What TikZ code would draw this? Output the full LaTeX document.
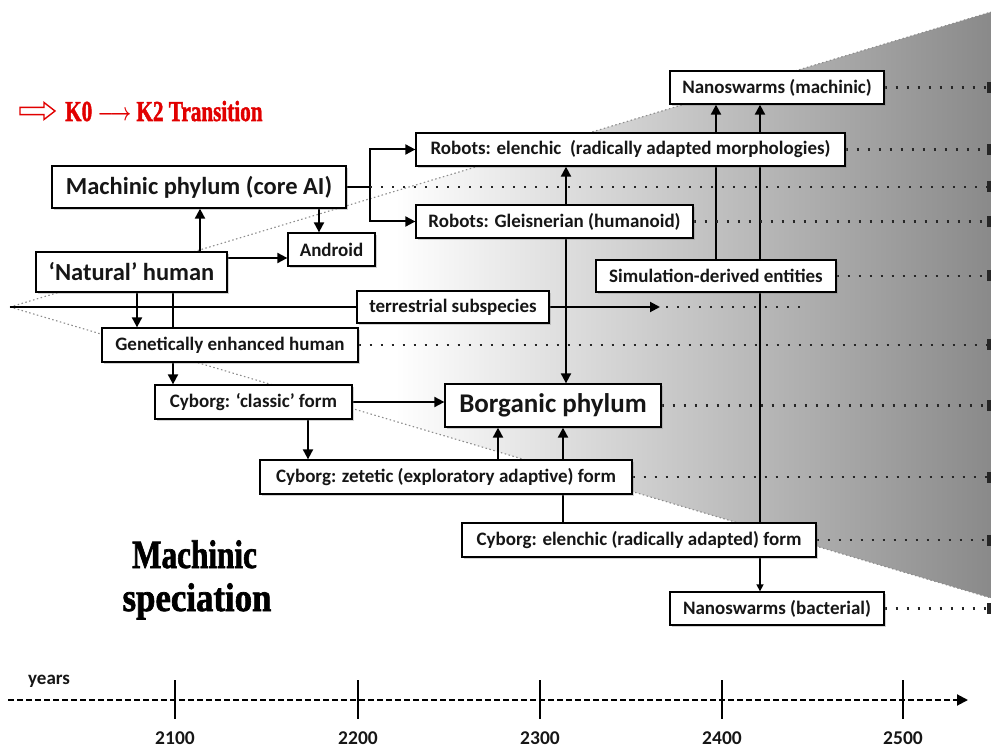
\documentclass[tikz,border=0pt]{standalone}
\usepackage{graphicx}
\usepackage{fontspec}
\setmainfont{Carlito}
\newfontfamily\headfont{Liberation Serif}[BoldFeatures={FakeBold=1.8}]
\usetikzlibrary{arrows.meta,shadows}

\pgfdeclarelayer{shade}
\pgfdeclarelayer{wires}
\pgfsetlayers{shade,wires,main}

\definecolor{titlered}{RGB}{225,0,0}
\definecolor{boxtext}{RGB}{22,22,22}

\tikzset{
  box/.style={draw=black, fill=white, line width=1.3pt, inner sep=0pt,
    text=boxtext, font=\bfseries\fontsize{19}{22}\selectfont,
    drop shadow={shadow xshift=2.2pt, shadow yshift=-2.2pt, opacity=0.35}},
  bigbox/.style={box, font=\bfseries\fontsize{24.5}{28}\selectfont},
  hugebox/.style={box, font=\bfseries\fontsize{27}{30}\selectfont},
  sz/.style 2 args={minimum width=#1, minimum height=#2},
  wire/.style={line width=2pt, draw=black},
  arr/.style={wire, -{Triangle[length=10pt,width=10pt]}},
  biarr/.style={wire, {Triangle[length=10pt,width=10pt]}-{Triangle[length=10pt,width=10pt]}},
  smallarr/.style={line width=1.5pt, draw=black, -{Triangle[length=7pt,width=7pt]}},
  dotrow/.style={line width=2.2pt, draw=black!85, dash pattern=on 2.2pt off 8.8pt,
    -{Rectangle[length=4pt,width=11pt]}},
  dotfade/.style={line width=2.2pt, draw=black!85, dash pattern=on 2.2pt off 8.8pt},
  coneedge/.style={line width=1.1pt, draw=black!45, dash pattern=on 1.5pt off 2.5pt},
  axisline/.style={line width=2pt, draw=black, dash pattern=on 6pt off 3pt,
    -{Triangle[length=11pt,width=11pt]}},
  tick/.style={line width=2pt, draw=black},
  yearlbl/.style={font=\bfseries\fontsize{19.5}{22}\selectfont, text=boxtext, inner sep=0pt},
  headtext/.style={inner sep=0pt, font=\headfont\bfseries\fontsize{40}{44}\selectfont},
}

\begin{document}
\begin{tikzpicture}[x=1pt, y=-1pt]
\useasboundingbox (0,0) rectangle (991,751);

% frame points of the speciation cone and fixed columns
\coordinate (apex) at (10,307);
\coordinate (coneTop) at (991,12);
\coordinate (coneBot) at (991,598);
\coordinate (edge) at (991,0);
\coordinate (fork) at (370,187);
\coordinate (terrTip) at (660,307);
\coordinate (terrFade) at (805,307);
\coordinate (y258) at (0,258);
\coordinate (x137) at (137,0);
\coordinate (x173) at (173,0);
\coordinate (x200) at (200,0);
\coordinate (x308) at (308,0);
\coordinate (x319) at (319,0);
\coordinate (x498) at (498,0);
\coordinate (x563) at (563,0);
\coordinate (x566) at (566,0);
\coordinate (x716) at (716,0);
\coordinate (x760) at (760,0);

% boxes
\node[box, sz={214pt}{33pt}] (nanoM) at (777,87.5) {Nanoswarms (machinic)};
\node[box, sz={429pt}{33pt}] (robE) at (630.5,149.5) {Robots: elenchic~ (radically adapted morphologies)};
\node[bigbox, sz={294pt}{42pt}] (mach) at (199,187) {Machinic phylum (core AI)};
\node[box, sz={277pt}{33pt}] (robG) at (554.5,221.5) {Robots: Gleisnerian (humanoid)};
\node[box, sz={87pt}{33pt}] (android) at (331.5,249.5) {Android};
\node[bigbox, sz={191pt}{40pt}] (nat) at (131.5,272) {‘Natural’ human};
\node[box, sz={192pt}{32pt}] (terr) at (453,307) {terrestrial subspecies};
\node[box, sz={240pt}{32pt}] (sim) at (716,276) {Simulation-derived entities};
\node[box, sz={256pt}{34pt}] (ge) at (230,345) {Genetically enhanced human};
\node[box, sz={197pt}{34pt}] (classic) at (253.5,402) {Cyborg: ‘classic’ form};
\node[hugebox, sz={216pt}{43pt}] (borg) at (553,405.5) {Borganic phylum};
\node[box, sz={372pt}{34pt}] (zet) at (446,477) {Cyborg: zetetic (exploratory adaptive) form};
\node[box, sz={354pt}{34pt}] (cybE) at (639,540) {Cyborg: elenchic (radically adapted) form};
\node[box, sz={214pt}{33pt}] (nanoB) at (777,608.5) {Nanoswarms (bacterial)};

% shaded cone
\begin{pgfonlayer}{shade}
  \begin{scope}
    \clip (apex) -- (coneTop) -- (coneBot) -- cycle;
    \shade[left color=white, right color=black!46] (395,0) rectangle (991,751);
  \end{scope}
  \draw[coneedge] (apex) -- (coneTop);
  \draw[coneedge] (apex) -- (coneBot);
\end{pgfonlayer}

% connectors
\begin{pgfonlayer}{wires}
  \draw[arr] (x200 |- nat.north) -- (x200 |- mach.south);
  \draw[arr] (x319 |- mach.south) -- (x319 |- android.north);
  \draw[arr] (nat.east |- y258) -- (android.west |- y258);
  \draw[wire] (mach.east) -- (fork);
  \draw[arr] (fork) |- (robE.west);
  \draw[arr] (fork) |- (robG.west);
  \draw[dotrow] (fork) -- (edge |- fork);
  \draw[wire] (apex) -- (terr.west);
  \draw[arr] (terr.east) -- (terrTip);
  \draw[dotfade] ([xshift=6pt]terrTip) -- (terrFade);
  \draw[arr] (x137 |- nat.south) -- (x137 |- ge.north);
  \draw[wire] (x173 |- nat.south) -- (x173 |- ge.north);
  \draw[arr] (x173 |- ge.south) -- (x173 |- classic.north);
  \draw[arr] (classic.east) -- (classic.east -| borg.west);
  \draw[arr] (x308 |- classic.south) -- (x308 |- zet.north);
  \draw[arr] (x498 |- zet.north) -- (x498 |- borg.south);
  \draw[wire] (x563 |- cybE.north) -- (x563 |- zet.south);
  \draw[arr] (x563 |- zet.north) -- (x563 |- borg.south);
  \draw[biarr] (x566 |- borg.north) -- (x566 |- robE.south);
  \draw[arr] (x716 |- sim.north) -- (x716 |- nanoM.south);
  \draw[arr] (x760 |- cybE.north) -- (x760 |- nanoM.south);
  \draw[smallarr] (x760 |- cybE.south) -- (x760 |- nanoB.north);
  \foreach \n in {nanoM, robE, robG, sim, ge, borg, zet, cybE, nanoB}
    \draw[dotrow] (\n.east) -- (edge |- \n.east);
\end{pgfonlayer}

% heading: hollow arrow followed by the red title
\coordinate (hollowTail) at (20,111);
\draw[titlered, line width=1.4pt, fill=white, line join=miter]
  (hollowTail) ++(0,-3.6) -- ++(24,0) -- ++(0,-4.9) -- ++(11,8.5)
  -- ++(-11,8.5) -- ++(0,-4.9) -- ++(-24,0) -- cycle;
\node[anchor=base west, inner sep=0pt, text=titlered,
  font=\headfont\bfseries\fontsize{29}{32}\selectfont]
  (title) at (65,121) {\scalebox{0.73}[1]{K0 {\boldmath$\longrightarrow$} K2 Transition}};

% side caption
\node[headtext, anchor=base] (cap1) at (194.5,568) {\scalebox{0.78}[1]{Machinic}};
\node[headtext, anchor=base] (cap2) at (197,611) {\scalebox{0.87}[1]{speciation}};

% time axis
\coordinate (axL) at (8,700);
\coordinate (axR) at (968,700);
\draw[axisline] (axL) -- (axR);
\node[yearlbl, anchor=base west, font=\bfseries\fontsize{19}{22}\selectfont] (yearsLbl) at (28,684) {years};
\foreach \yr/\xx in {2100/175, 2200/358, 2300/540, 2400/722, 2500/903} {
  \coordinate (tkA\yr) at (\xx,680);
  \coordinate (tkB\yr) at (\xx,719);
  \draw[tick] (tkA\yr) -- (tkB\yr);
  \node[yearlbl] (lbl\yr) at (\xx,738) {\yr};
}
\end{tikzpicture}
\end{document}
